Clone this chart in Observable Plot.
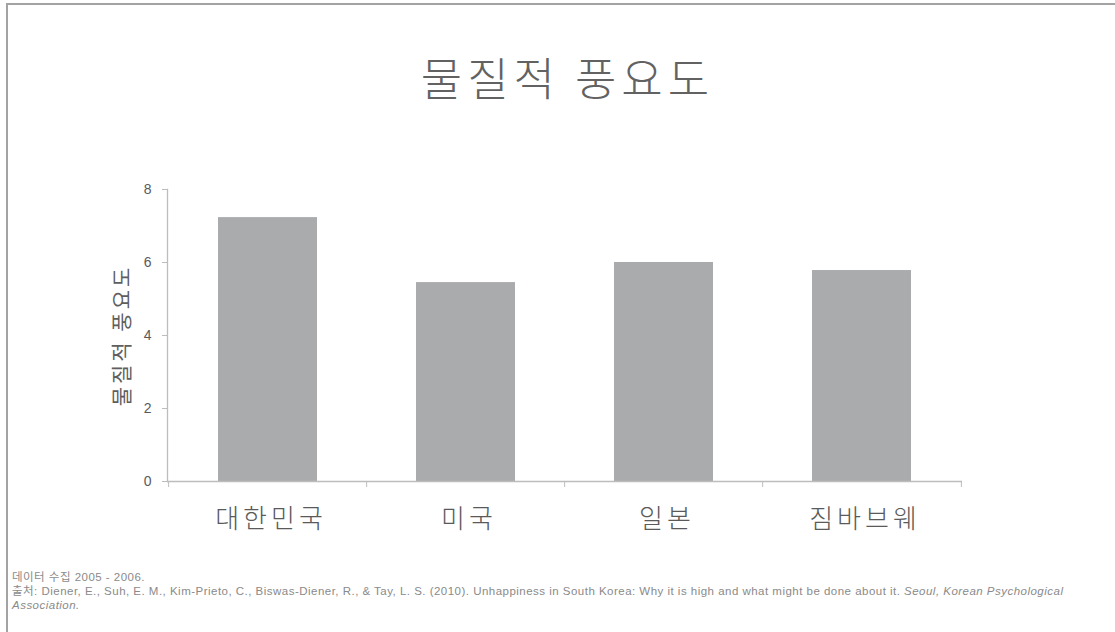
<!DOCTYPE html>
<html>
<head>
<meta charset="utf-8">
<script src="https://cdn.jsdelivr.net/npm/d3@7"></script>
<script src="https://cdn.jsdelivr.net/npm/@observablehq/plot@0.6"></script>
<style>
  html, body { margin: 0; padding: 0; background: #fff; }
  #wrap { position: relative; width: 1115px; height: 632px; overflow: hidden; background: #fff; }
  #border { position: absolute; left: 6px; top: 3px; right: -5px; bottom: -5px; border-top: 2px solid #a3a3a3; border-left: 2px solid #a3a3a3; }
  #title { position: absolute; left: 10px; width: 1115px; top: 44px; text-align: center; font-family: "Noto Sans CJK KR", sans-serif; font-weight: 300; font-size: 45px; color: #626262; letter-spacing: 5px; }
  #chart { position: absolute; left: 0; top: 0; }
  #foot { position: absolute; left: 12px; top: 570px; width: 1095px; font-family: "Liberation Sans", "Noto Sans CJK KR", sans-serif; font-size: 11.5px; letter-spacing: 0.48px; line-height: 14px; color: #8a8a8a; }
  #chart [aria-label="x-axis tick label"] text { letter-spacing: 4px; }
  #chart [aria-label="y-axis label"] text { letter-spacing: 3px; }
</style>
</head>
<body>
<div id="wrap">
  <div id="border"></div>
  <div id="title"></div>
  <div id="chart"></div>
  <div id="foot"></div>
</div>
<script>
const titleText = "물질적 풍요도";
const yLabel = "물질적 풍요도";
const countries = ["대한민국", "미국", "일본", "짐바브웨"];
const values = [7.23, 5.45, 6.0, 5.78];
const yTicks = [0, 2, 4, 6, 8];
const note1 = "데이터 수집 2005 - 2006.";
const sourceText = "출처: Diener, E., Suh, E. M., Kim-Prieto, C., Biswas-Diener, R., & Tay, L. S. (2010). Unhappiness in South Korea: Why it is high and what might be done about it. ";
const sourceItalic1 = "Seoul, Korean Psychological";
const sourceItalic2 = "Association.";

document.getElementById("title").textContent = titleText;
const foot = document.getElementById("foot");
foot.innerHTML = "";
const l1 = document.createElement("div"); l1.textContent = note1; foot.appendChild(l1);
const l2 = document.createElement("div");
l2.style.whiteSpace = "nowrap";
l2.appendChild(document.createTextNode(sourceText));
const it1 = document.createElement("i"); it1.textContent = sourceItalic1; l2.appendChild(it1);
foot.appendChild(l2);
const l3 = document.createElement("div");
const it2 = document.createElement("i"); it2.textContent = sourceItalic2; l3.appendChild(it2);
foot.appendChild(l3);

const data = countries.map((c, i) => ({country: c, value: values[i]}));

const W = 1115, mL = 167, mR = 153;
const step = (W - mL - mR) / (countries.length);
const axisColor = "#bdbdbd";

const chart = Plot.plot({
  width: W,
  height: 545,
  marginTop: 189,
  marginBottom: 64,
  marginLeft: mL,
  marginRight: mR,
  style: {background: "transparent", overflow: "visible"},
  x: {domain: countries, paddingInner: 0.5, paddingOuter: 0.25, label: null},
  y: {domain: [0, 8], label: null},
  marks: [
    Plot.barY(data, {x: "country", y: "value", fill: "#aaabad"}),
    Plot.frame({anchor: "left", stroke: axisColor, strokeWidth: 1.3}),
    Plot.ruleY([0], {stroke: axisColor, strokeWidth: 1.3}),
    Plot.axisY({ticks: yTicks, tickSize: 5, tickPadding: 11, stroke: axisColor, fill: "#5a5a5a", fontSize: 14, fontFamily: "Liberation Sans, sans-serif", label: null}),
    Plot.axisY({ticks: [], label: yLabel, labelArrow: "none", labelAnchor: "center", labelOffset: 53, fontSize: 21, fill: "#5e5e5e", fontFamily: "Noto Sans CJK KR, sans-serif"}),
    Plot.axisX({ticks: countries, tickSize: 6, stroke: axisColor, tickFormat: null, dx: -step / 2, label: null}),
    Plot.axisX({ticks: countries.slice(-1), tickSize: 6, stroke: axisColor, tickFormat: null, dx: step / 2, label: null}),
    Plot.axisX({ticks: countries, tickSize: 0, tickPadding: 28, fontSize: 26, fill: "#5a5a5a", fontFamily: "Noto Sans CJK KR, sans-serif", fontWeight: 300, dx: 3, label: null})
  ]
});
document.getElementById("chart").appendChild(chart);
</script>
</body>
</html>
